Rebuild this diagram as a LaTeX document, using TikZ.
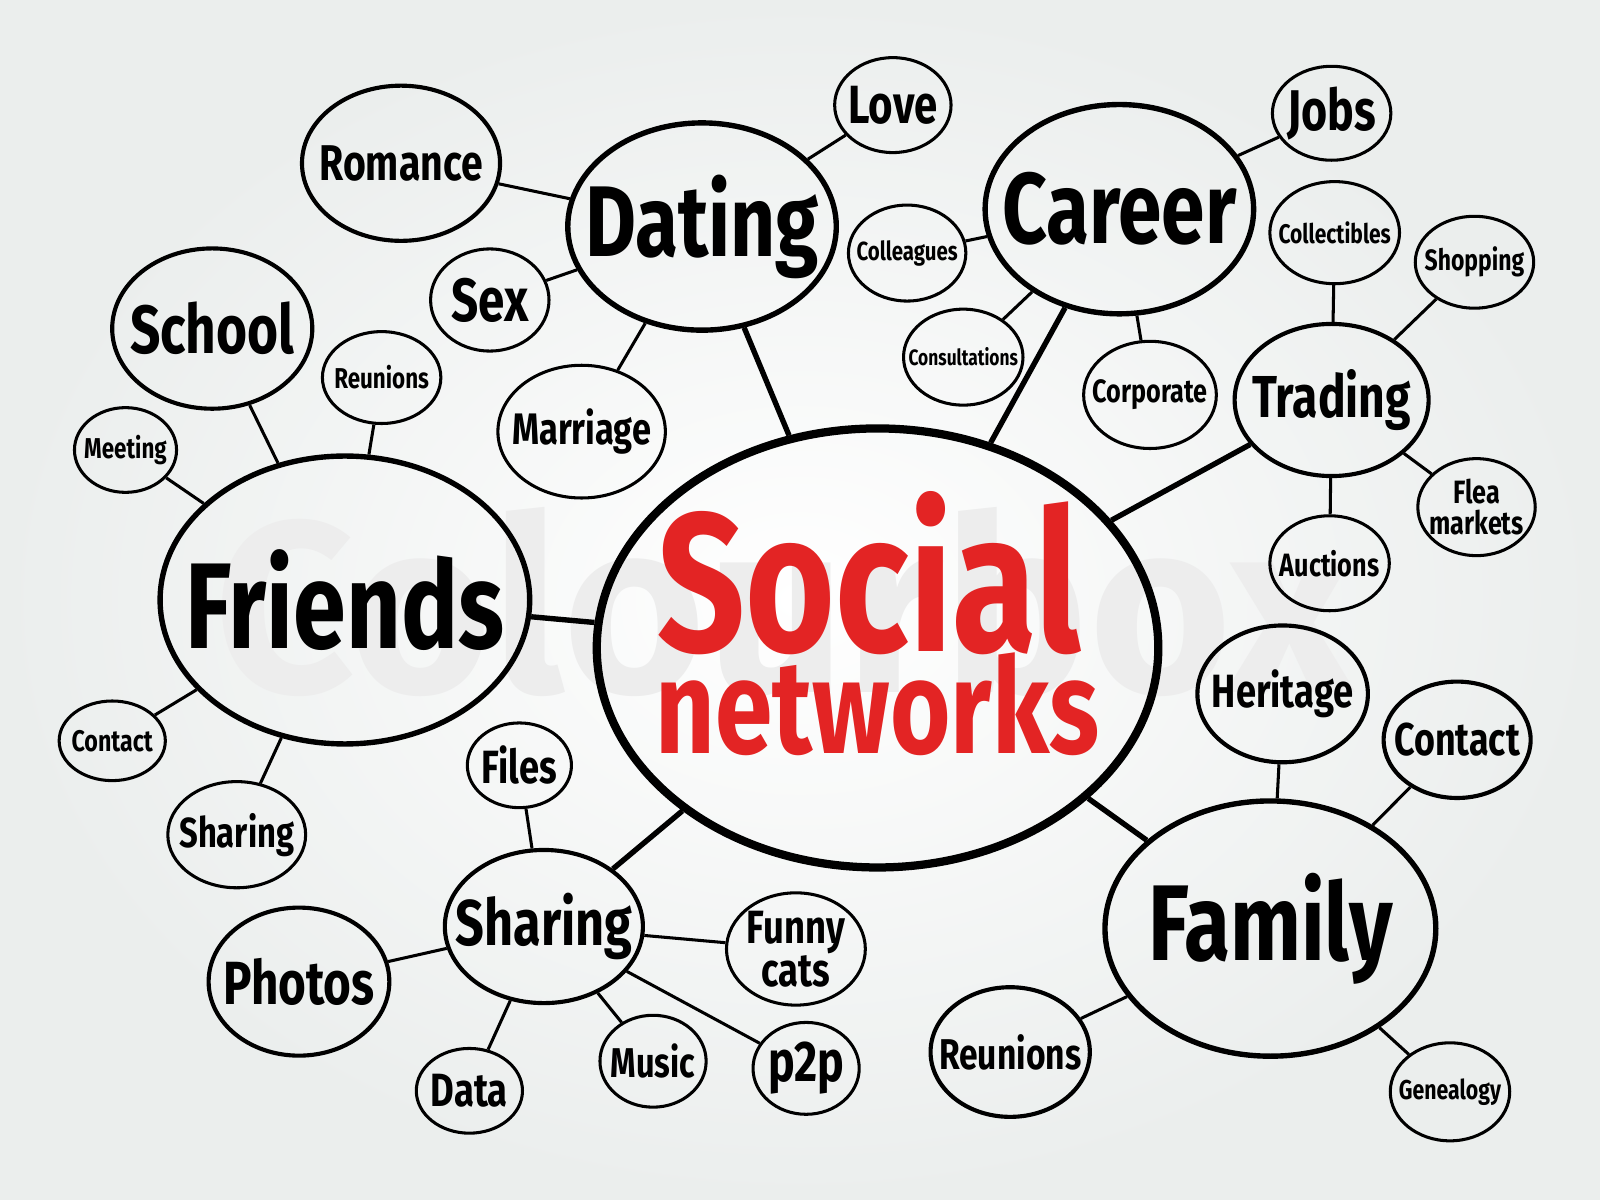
\documentclass[tikz,border=0pt]{standalone}
\usepackage{fontspec}
\setmainfont[FakeStretch=0.78]{Fira Sans}
\newfontfamily\markfont{Fira Sans}
\usetikzlibrary{shapes.geometric}
\definecolor{socred}{HTML}{E32424}
\definecolor{bggray}{HTML}{EBEEED}
% label text that does not widen its bubble
\newcommand{\lbltxt}[1]{\makebox[0pt]{#1}}

\begin{document}
\begin{tikzpicture}[x=0.01cm, y=-0.01cm,
  bub/.style={ellipse, draw, line width=0.85pt, inner sep=0pt, align=center},
  mid/.style={bub, line width=1.15pt},
  big/.style={bub, line width=1.5pt},
  sz/.style 2 args={minimum width=#1, minimum height=#2},
  fs/.style={font=\fontsize{#1}{#1}\selectfont\bfseries},
  link/.style={line width=0.85pt},
  hublink/.style={line width=1.5pt}]

  % background and watermark
  \useasboundingbox (0,0) rectangle (1568,1176);
  \shade[inner color=white, outer color=bggray] (0,0) rectangle (1568,1176);
  \node[text=black!7, font=\markfont\fontsize{68pt}{68pt}\selectfont\bfseries] (mark) at (768,590) {Colourbox};

  % central topic
  \node[bub, line width=2.3pt, sz={5.5cm}{4.3cm}] (soc) at (860,635) {};
  \node[anchor=base, text=socred, fs=55pt] (socA) at (852,638) {Social};
  \node[anchor=base, text=socred, fs=37pt] (socB) at (860,738) {networks};

  % main branches
  \node[big, sz={3.62cm}{2.82cm}, fs=34pt] (friends) at (338,588) {\lbltxt{Friends}};
  \node[big, sz={2.63cm}{2.03cm}, fs=28pt] (dating) at (688,222) {\lbltxt{Dating}};
  \node[big, sz={2.63cm}{2.05cm}, fs=28pt] (career) at (1097,205) {\lbltxt{Career}};
  \node[mid, sz={1.9cm}{1.49cm}, fs=16.5pt] (trading) at (1305,392) {\lbltxt{Trading}};
  \node[big, sz={3.24cm}{2.5cm}, fs=30pt] (family) at (1245,910) {\lbltxt{Family}};
  \node[mid, sz={1.94cm}{1.5cm}, fs=18pt] (sharing) at (533,908) {\lbltxt{Sharing}};

  % dating
  \node[mid, sz={1.94cm}{1.52cm}, fs=14pt] (romance) at (393,160) {\lbltxt{Romance}};
  \node[bub, sz={1.14cm}{0.93cm}, fs=15pt] (love) at (875,103) {\lbltxt{Love}};
  \node[bub, sz={1.16cm}{1.0cm}, fs=17pt] (sex) at (480,294) {\lbltxt{Sex}};
  \node[bub, sz={1.64cm}{1.3cm}, fs=12.3pt] (marriage) at (570,423) {\lbltxt{Marriage}};

  % friends
  \node[mid, sz={1.96cm}{1.57cm}, fs=19pt] (school) at (208,322) {\lbltxt{School}};
  \node[bub, sz={1.16cm}{0.9cm}, fs=8pt] (reunA) at (374,370) {\lbltxt{Reunions}};
  \node[bub, sz={1.0cm}{0.83cm}, fs=8pt] (meeting) at (123,441) {\lbltxt{Meeting}};
  \node[bub, sz={1.04cm}{0.78cm}, fs=8.3pt] (contactA) at (110,726) {\lbltxt{Contact}};
  \node[bub, sz={1.35cm}{1.04cm}, fs=11.7pt] (sharingA) at (232,818) {\lbltxt{Sharing}};

  % sharing
  \node[bub, sz={1.02cm}{0.83cm}, fs=13pt] (files) at (509,750) {\lbltxt{Files}};
  \node[mid, sz={1.77cm}{1.45cm}, fs=17pt] (photos) at (293,962) {\lbltxt{Photos}};
  \node[bub, sz={1.04cm}{0.83cm}, fs=13pt] (data) at (460,1069) {\lbltxt{Data}};
  \node[bub, sz={1.04cm}{0.9cm}, fs=11.6pt] (music) at (640,1040) {\lbltxt{Music}};
  \node[bub, sz={1.04cm}{0.9cm}, fs=16pt] (ptwop) at (790,1047) {\lbltxt{p2p}};
  \node[bub, sz={1.36cm}{1.1cm}, font=\fontsize{13pt}{12pt}\selectfont\bfseries] (funny) at (780,930) {\lbltxt{Funny}\\\lbltxt{cats}};

  % career
  \node[bub, sz={1.15cm}{0.94cm}, fs=7.3pt] (colleagues) at (889,248) {\lbltxt{Colleagues}};
  \node[bub, sz={1.17cm}{0.94cm}, fs=6.2pt] (consult) at (944,350) {\lbltxt{Consultations}};
  \node[bub, sz={1.3cm}{1.05cm}, fs=9pt] (corporate) at (1127,387) {\lbltxt{Corporate}};
  \node[bub, sz={1.16cm}{0.92cm}, fs=16pt] (jobs) at (1305,111) {\lbltxt{Jobs}};

  % trading
  \node[bub, sz={1.27cm}{1.0cm}, fs=7.5pt] (collect) at (1308,228) {\lbltxt{Collectibles}};
  \node[bub, sz={1.16cm}{0.9cm}, fs=8.2pt] (shopping) at (1445,257) {\lbltxt{Shopping}};
  \node[bub, sz={1.15cm}{0.95cm}, font=\fontsize{9pt}{8.5pt}\selectfont\bfseries] (flea) at (1447,497) {\lbltxt{Flea}\\\lbltxt{markets}};
  \node[bub, sz={1.17cm}{0.93cm}, fs=9pt] (auctions) at (1303,552) {\lbltxt{Auctions}};

  % family
  \node[mid, sz={1.67cm}{1.34cm}, fs=13pt] (heritage) at (1257,680) {\lbltxt{Heritage}};
  \node[mid, sz={1.44cm}{1.14cm}, fs=12.8pt] (contactB) at (1428,725) {\lbltxt{Contact}};
  \node[mid, sz={1.56cm}{1.27cm}, fs=12pt] (reunB) at (990,1031) {\lbltxt{Reunions}};
  \node[bub, sz={1.17cm}{0.96cm}, fs=7.6pt] (genealogy) at (1421,1070) {\lbltxt{Genealogy}};

  % connectors from the centre
  \foreach \n in {dating,career,trading,family,friends,sharing}
    \draw[hublink] (soc) -- (\n);

  % connectors of the branches
  \foreach \a/\b in {dating/romance, dating/love, dating/sex, dating/marriage,
                     friends/school, friends/reunA, friends/meeting, friends/contactA, friends/sharingA,
                     sharing/files, sharing/photos, sharing/data, sharing/music, sharing/ptwop, sharing/funny,
                     career/colleagues, career/consult, career/corporate, career/jobs,
                     trading/collect, trading/shopping, trading/flea, trading/auctions,
                     family/heritage, family/contactB, family/reunB, family/genealogy}
    \draw[link] (\a) -- (\b);

\end{tikzpicture}
\end{document}
